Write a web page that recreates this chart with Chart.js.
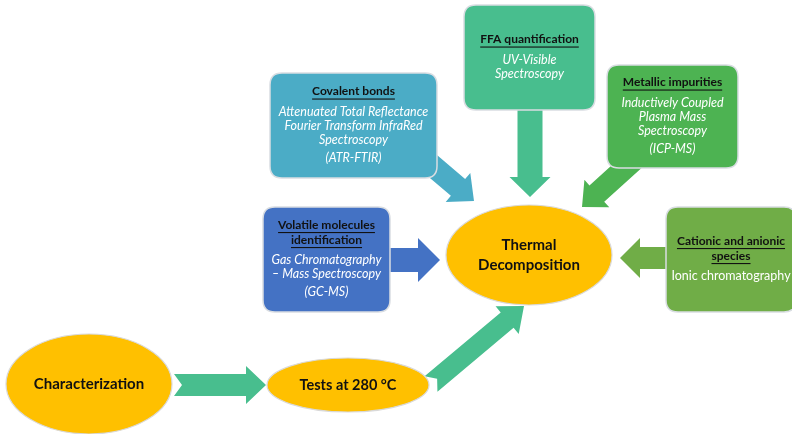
<!DOCTYPE html>
<html>
<head>
<meta charset="utf-8">
<script src="https://cdn.jsdelivr.net/npm/chart.js@4.4.1/dist/chart.umd.min.js"></script>
<style>
  html, body { margin: 0; padding: 0; background: #ffffff; }
  #wrap { width: 792px; height: 434px; }
</style>
</head>
<body>
<div id="wrap"><canvas id="diagram" width="792" height="434"></canvas></div>
<script>
// texts of the diagram
const methodTitles = [
    ['Covalent bonds'],
    ['FFA quantification'],
    ['Metallic impurities'],
    ['Volatile molecules', 'identification'],
    ['Cationic and anionic', 'species']
];
const methodTechniques = [
    ['Attenuated Total Reflectance', 'Fourier Transform InfraRed', 'Spectroscopy'],
    ['UV-Visible', 'Spectroscopy'],
    ['Inductively Coupled', 'Plasma Mass', 'Spectroscopy'],
    ['Gas Chromatography', '\u2013 Mass Spectroscopy'],
    ['Ionic chromatography']
];
const methodAbbrev = ['(ATR-FTIR)', '', '(ICP-MS)', '(GC-MS)', ''];
const stageLabels = [['Characterization'], ['Tests at 280 \u00b0C'], ['Thermal', 'Decomposition']];

// layout (diagram units, mapped by the chart scales)
const boxLayout = [
    { x: 270, y: 73, w: 167, h: 105, color: '#4BACC6', italic: true },
    { x: 464, y: 5, w: 131, h: 105, color: '#48BE8E', italic: true },
    { x: 607, y: 65, w: 131, h: 103, color: '#4DB352', italic: true },
    { x: 263, y: 207, w: 127, h: 105, color: '#4472C4', italic: true },
    { x: 666, y: 207, w: 130, h: 105, color: '#70AD47', italic: false }
];
const ellipseLayout = [
    { cx: 89, cy: 384, rx: 83, ry: 50, size: 15 },
    { cx: 348, cy: 385, rx: 81, ry: 27, size: 14.5 },
    { cx: 529, cy: 255, rx: 83, ry: 50, size: 15 }
];
const arrowLayout = [
    { tail: [414, 150], tip: [474, 201], shaft: 22, head: 38, len: 21, notch: 0, color: '#4BACC6' },
    { tail: [530, 100], tip: [530, 197], shaft: 25, head: 41, len: 20, notch: 0, color: '#48BE8E' },
    { tail: [645, 150], tip: [582, 207], shaft: 22, head: 37, len: 20, notch: 0, color: '#4DB352' },
    { tail: [385, 260], tip: [440, 260], shaft: 24, head: 44, len: 22, notch: 0, color: '#4472C4' },
    { tail: [672, 258], tip: [620, 258], shaft: 22, head: 40, len: 20, notch: 0, color: '#70AD47' },
    { tail: [174, 385], tip: [266, 385], shaft: 22, head: 38, len: 20, notch: 8, color: '#48BE8E' },
    { tail: [431, 384], tip: [524, 306], shaft: 20, head: 36, len: 22, notch: 8, color: '#48BE8E' }
];

const FONT = 'Lato, "Open Sans", sans-serif';

function roundRect(ctx, x, y, w, h, r) {
    ctx.beginPath();
    ctx.moveTo(x + r, y);
    ctx.lineTo(x + w - r, y);
    ctx.quadraticCurveTo(x + w, y, x + w, y + r);
    ctx.lineTo(x + w, y + h - r);
    ctx.quadraticCurveTo(x + w, y + h, x + w - r, y + h);
    ctx.lineTo(x + r, y + h);
    ctx.quadraticCurveTo(x, y + h, x, y + h - r);
    ctx.lineTo(x, y + r);
    ctx.quadraticCurveTo(x, y, x + r, y);
    ctx.closePath();
}

const diagramPlugin = {
    id: 'diagram',
    afterDatasetsDraw(chart) {
        const ctx = chart.ctx;
        const xs = chart.scales.x, ys = chart.scales.y;
        const px = v => xs.getPixelForValue(v);
        const py = v => ys.getPixelForValue(v);
        const sx = v => xs.getPixelForValue(v) - xs.getPixelForValue(0);
        const sy = v => ys.getPixelForValue(v) - ys.getPixelForValue(0);

        ctx.save();

        // arrows first, shapes drawn over their tails
        arrowLayout.forEach(a => {
            const tx = px(a.tail[0]), ty = py(a.tail[1]);
            const hx = px(a.tip[0]), hy = py(a.tip[1]);
            const d = Math.hypot(hx - tx, hy - ty);
            const ux = (hx - tx) / d, uy = (hy - ty) / d;
            const vx = -uy, vy = ux;
            const w = sx(a.shaft) / 2, H = sx(a.head) / 2, L = sx(a.len);
            const nx = hx - ux * L, ny = hy - uy * L;
            ctx.beginPath();
            ctx.moveTo(tx + vx * w, ty + vy * w);
            ctx.lineTo(nx + vx * w, ny + vy * w);
            ctx.lineTo(nx + vx * H, ny + vy * H);
            ctx.lineTo(hx, hy);
            ctx.lineTo(nx - vx * H, ny - vy * H);
            ctx.lineTo(nx - vx * w, ny - vy * w);
            ctx.lineTo(tx - vx * w, ty - vy * w);
            if (a.notch) ctx.lineTo(tx + ux * a.notch, ty + uy * a.notch);
            ctx.closePath();
            ctx.fillStyle = a.color;
            ctx.fill();
        });

        // method boxes
        ctx.textAlign = 'center';
        ctx.textBaseline = 'middle';
        boxLayout.forEach((b, i) => {
            const x = px(b.x), y = py(b.y), w = sx(b.w), h = sy(b.h);
            roundRect(ctx, x, y, w, h, 12);
            ctx.fillStyle = b.color;
            ctx.fill();
            ctx.lineWidth = 1.5;
            ctx.strokeStyle = '#d9dde2';
            ctx.stroke();

            const titles = methodTitles[i];
            const techs = methodTechniques[i];
            const abbr = methodAbbrev[i];
            const lines = [];
            let yy = 0;
            titles.forEach((t, k) => { if (k) yy += 15; lines.push({ t, y: yy, kind: 'title' }); });
            yy += 20;
            techs.forEach((t, k) => { if (k) yy += 14; lines.push({ t, y: yy, kind: 'tech' }); });
            if (abbr) { yy += 18; lines.push({ t: abbr, y: yy, kind: 'tech' }); }
            const cx = x + w / 2;
            const top = y + h / 2 - yy / 2 - 1;
            lines.forEach(l => {
                const ly = top + l.y;
                if (l.kind === 'title') {
                    ctx.font = 'bold 12px ' + FONT;
                    ctx.fillStyle = '#111111';
                    ctx.fillText(l.t, cx, ly);
                    const tw = ctx.measureText(l.t).width;
                    ctx.fillRect(cx - tw / 2, ly + 7, tw, 1.1);
                } else {
                    ctx.font = (b.italic ? 'italic ' : '') + '12.5px ' + FONT;
                    ctx.fillStyle = '#ffffff';
                    ctx.fillText(l.t, cx, ly);
                }
            });
        });

        // stage ellipses, centred on the dataset points
        const meta = chart.getDatasetMeta(0);
        ellipseLayout.forEach((e, i) => {
            const pt = meta.data[i];
            ctx.beginPath();
            ctx.ellipse(pt.x, pt.y, sx(e.rx), sy(e.ry), 0, 0, Math.PI * 2);
            ctx.fillStyle = '#FFC000';
            ctx.fill();
            ctx.lineWidth = 1.2;
            ctx.strokeStyle = '#d9d9d9';
            ctx.stroke();
            ctx.font = 'bold ' + e.size + 'px ' + FONT;
            ctx.fillStyle = '#111111';
            const lab = stageLabels[i];
            lab.forEach((t, k) => {
                ctx.fillText(t, pt.x, pt.y + (k - (lab.length - 1) / 2) * 20);
            });
        });

        ctx.restore();
    }
};

const diagramChart = new Chart(document.getElementById('diagram'), {
    type: 'scatter',
    data: {
        datasets: [{
            label: 'stages',
            data: ellipseLayout.map(e => ({ x: e.cx, y: e.cy })),
            pointRadius: 0,
            pointHoverRadius: 0
        }]
    },
    options: {
        responsive: false,
        animation: false,
        events: [],
        layout: { padding: 0, autoPadding: false },
        plugins: {
            legend: { display: false },
            tooltip: { enabled: false }
        },
        scales: {
            x: { type: 'linear', min: 0, max: 792, display: false },
            y: { type: 'linear', min: 0, max: 434, reverse: true, display: false }
        }
    },
    plugins: [diagramPlugin]
});
</script>
</body>
</html>
